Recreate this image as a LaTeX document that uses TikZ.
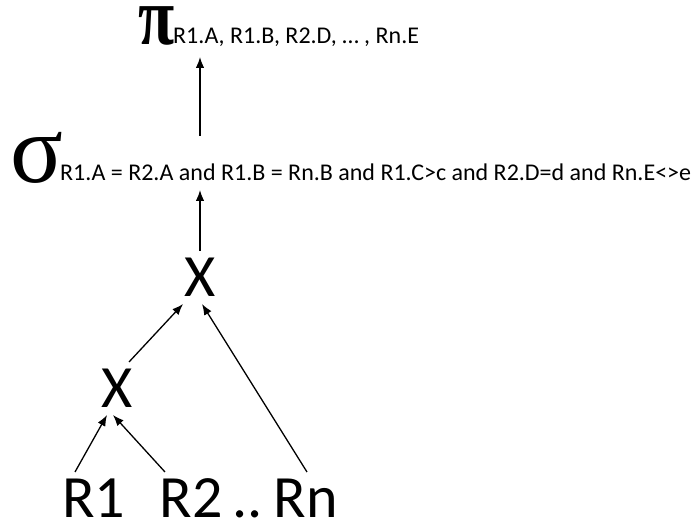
\documentclass[tikz,border=0pt]{standalone}
\usepackage{fontspec}
\setmainfont{Carlito}
\newfontfamily\greekfont{Liberation Serif}
\usetikzlibrary{arrows.meta}
\usetikzlibrary{positioning}

\tikzset{
    big/.style={font=\fontsize{60}{60}\selectfont, inner sep=0pt, text height=39pt, text depth=0pt, outer sep=7pt, anchor=base},
    greek/.style={inner sep=0pt, text depth=0pt, anchor=base west},
    cond/.style={font=\fontsize{24}{24}\selectfont, inner sep=0pt, text depth=0pt, anchor=base west},
    arr/.style={-{Latex[length=11pt,width=8.5pt]}, line width=1.3pt}
}

\begin{document}
\begin{tikzpicture}[x=1pt,y=1pt]
            \useasboundingbox (0,0) rectangle (694,524);

            % Projection
            \node[greek, text height=36pt, font=\greekfont\bfseries\fontsize{66}{66}\selectfont] (pi) at (138,479) {\scalebox{1}[1.25]{π}};
            \node[cond, text height=16pt, outer ysep=13pt] (proj) at (173,480) {R1.A, R1.B, R2.D, … , Rn.E};

            % Selection
            \node[greek, text height=46pt, font=\greekfont\fontsize{98}{98}\selectfont] (sigma) at (10,341) {σ};
            \node[cond, text height=36pt, outer ysep=9pt] (sel) at (60,343) {R1.A = R2.A and R1.B = Rn.B and R1.C>c and R2.D=d and Rn.E<>e};

            % Cross products
            \node[big] (xtop) at (200,227) {X};
            \node[big] (xlow) at (117.5,116) {X};

            % Relations
            \node[big] (r1) at (93.5,6) {R1};
            \node[big] (r2) at (191,6) {R2};
            \node[big] (dots) at (248,6) {..};
            \node[big] (rn) at (306,6) {Rn};

            % Arrows
            \draw[arr] ([xshift=-18.5pt]r1.north) -- ([xshift=-10.5pt]xlow.south);
            \draw[arr] ([xshift=-26pt]r2.north) -- ([xshift=-4.5pt]xlow.south);
            \draw[arr] ([xshift=11.5pt]xlow.north) -- ([xshift=-17pt]xtop.south);
            \draw[arr] ([xshift=1pt]rn.north) -- ([xshift=2pt]xtop.south);
            \draw[arr] (xtop.north) -- (xtop.north |- sel.south);
            \draw[arr] (sel.north -| xtop) -- (proj.south -| xtop);

\end{tikzpicture}
\end{document}
